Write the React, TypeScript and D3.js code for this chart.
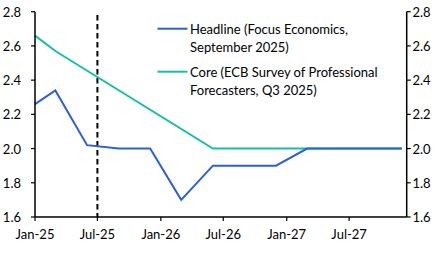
import React from "react";
import * as d3 from "d3";

const headlineDates = ["2025-01-01", "2025-03-01", "2025-06-01", "2025-09-01", "2025-12-01", "2026-03-01", "2026-06-01", "2026-09-01", "2026-12-01", "2027-03-01", "2027-06-01", "2027-09-01", "2027-12-01"];
const headlineValues = [2.26, 2.34, 2.02, 2.0, 2.0, 1.7, 1.9, 1.9, 1.9, 2.0, 2.0, 2.0, 2.0];
const coreDates = ["2025-01-01", "2025-03-01", "2026-06-01", "2026-12-01", "2027-06-01", "2027-12-01"];
const coreValues = [2.66, 2.57, 2.0, 2.0, 2.0, 2.0];
const xTickDates = ["2025-01-01", "2025-07-01", "2026-01-01", "2026-07-01", "2027-01-01", "2027-07-01"];
const xTickLabels = ["Jan-25", "Jul-25", "Jan-26", "Jul-26", "Jan-27", "Jul-27"];
const yTicks = [1.6, 1.8, 2.0, 2.2, 2.4, 2.6, 2.8];
const markerDate = "2025-07-01";
const legendLabels = [
  ["Headline (Focus Economics,", "September 2025)"],
  ["Core (ECB Survey of Professional", "Forecasters, Q3 2025)"],
];

const W = 443;
const H = 253;
const BLUE = "#2b5fd9";
const TEAL = "#17bfa6";
const FONT = "Lato, 'Open Sans', sans-serif";

export default function App() {
  const parse = d3.utcParse("%Y-%m-%d");
  const x = d3
    .scaleUtc()
    .domain([parse("2025-01-01")!, parse("2027-12-15")!])
    .range([35, 406.7]);
  const y = d3.scaleLinear().domain([1.6, 2.8]).range([217, 11.7]);

  const line = d3
    .line<[Date, number]>()
    .x((d) => x(d[0]))
    .y((d) => y(d[1]));

  const headline: [Date, number][] = headlineDates.map((d, i) => [parse(d)!, headlineValues[i]]);
  const core: [Date, number][] = coreDates.map((d, i) => [parse(d)!, coreValues[i]]);
  const mx = x(parse(markerDate)!);

  return (
    <svg
      width={W}
      height={H}
      style={{ position: "absolute", left: 0, top: 0, background: "#fff" }}
      fontFamily={FONT}
    >
      <rect width={W} height={H} fill="#fff" />
      {/* dashed marker */}
      <line x1={mx} x2={mx} y1={15} y2={217} stroke="#000" strokeWidth={2} strokeDasharray="5.5,3.5" />
      {/* series */}
      <path d={line(core)!} fill="none" stroke={TEAL} strokeWidth={2} />
      <path d={line(headline)!} fill="none" stroke={BLUE} strokeWidth={2} />
      {/* axes */}
      <line x1={35} x2={35} y1={11.7} y2={217} stroke="#000" strokeWidth={1.5} />
      <line x1={406.7} x2={406.7} y1={11.7} y2={217} stroke="#000" strokeWidth={1.5} />
      <line x1={35} x2={406.7} y1={217} y2={217} stroke="#000" strokeWidth={1.5} />
      {yTicks.map((t) => (
        <g key={t}>
          <line x1={31} x2={35} y1={y(t)} y2={y(t)} stroke="#000" strokeWidth={1.2} />
          <line x1={406.7} x2={410.7} y1={y(t)} y2={y(t)} stroke="#000" strokeWidth={1.2} />
          <text x={21} y={y(t)} textAnchor="end" dominantBaseline="central" fontSize={13} fill="#000">
            {d3.format(".1f")(t)}
          </text>
          <text x={412.5} y={y(t)} textAnchor="start" dominantBaseline="central" fontSize={13} fill="#000">
            {d3.format(".1f")(t)}
          </text>
        </g>
      ))}
      {xTickDates.map((d, i) => {
        const xx = x(parse(d)!);
        return (
          <g key={d}>
            <line x1={xx} x2={xx} y1={217} y2={221} stroke="#000" strokeWidth={1.2} />
            <text x={xx} y={233.5} textAnchor="middle" dominantBaseline="central" fontSize={13} fill="#000">
              {xTickLabels[i]}
            </text>
          </g>
        );
      })}
      {/* legend */}
      {legendLabels.map((lines, i) => {
        const ly = 28.7 + i * 43;
        return (
          <g key={i}>
            <line x1={157.5} x2={187.5} y1={ly} y2={ly} stroke={i === 0 ? BLUE : TEAL} strokeWidth={2} />
            {lines.map((s, j) => (
              <text key={j} x={190} y={ly + j * 18} dominantBaseline="central" fontSize={13} fill="#000">
                {s}
              </text>
            ))}
          </g>
        );
      })}
    </svg>
  );
}
